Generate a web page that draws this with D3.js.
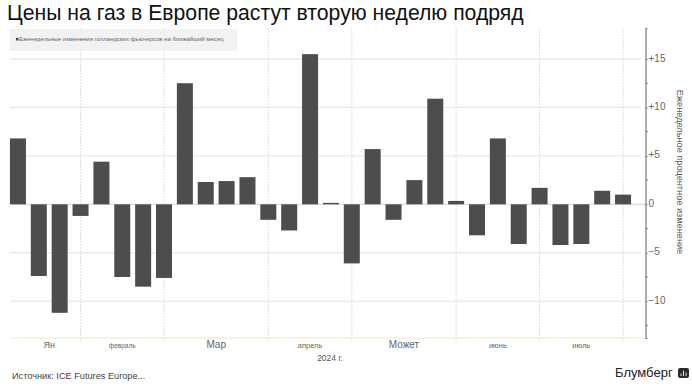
<!DOCTYPE html>
<html>
<head>
<meta charset="utf-8">
<script src="https://cdn.jsdelivr.net/npm/d3@7"></script>
<style>
  html, body { margin: 0; padding: 0; background: #fff; }
  svg { display: block; }
  text { font-family: "Liberation Sans", Arial, sans-serif; }
</style>
</head>
<body>
<svg id="chart" width="692" height="387"></svg>
<script>
// weekly closes
const weeks = ["01-05","01-12","01-19","01-26","02-02","02-09","02-16","02-23","03-01","03-08",
  "03-15","03-22","03-29","04-05","04-12","04-19","04-26","05-03","05-10","05-17",
  "05-24","05-31","06-07","06-14","06-21","06-28","07-05","07-12","07-19","07-26"];
const changes = [6.8,-7.4,-11.2,-1.2,4.4,-7.5,-8.5,-7.6,12.5,2.3,
  2.4,2.8,-1.6,-2.7,15.5,0.15,-6.1,5.7,-1.6,2.5,
  10.9,0.35,-3.2,6.8,-4.1,1.7,-4.2,-4.1,1.4,1.0];

// last week of each month, where the vertical grid lines sit
const monthEnds = ["01-26","02-23","03-29","04-26","05-31","06-28","07-26"];
const monthLabels = ["Ян","февраль","Мар","апрель","Может","июнь","июль"];
const monthSizes = [9,6.5,10,7.5,10,7.5,7.5];

const yTicks = [15,10,5,0,-5,-10];
const yMinorTicks = [12.5,7.5,2.5,-2.5,-7.5,-12.5];

// opacity keeps the text antialiasing grey instead of colour fringed
const svg = d3.select("#chart").append("g").attr("opacity", 0.995);

const x = d3.scaleBand().domain(weeks).range([7.5, 633.5]).paddingInner(0.233).paddingOuter(0.117);
const y = d3.scaleLinear().domain([-13.8, 18.2]).range([338, 28]);
const xc = d => x(d) + x.bandwidth() / 2;

//title
svg.append("text").attr("x", 7).attr("y", 20)
  .attr("font-size", 21.2).attr("fill", "#111")
  .text("Цены на газ в Европе растут вторую неделю подряд");

//grid lines first, bars go on top
svg.append("g").selectAll("line").data(yTicks.filter(d => d != 0)).enter().append("line")
  .attr("x1", 10).attr("x2", 641)
  .attr("y1", d => y(d)).attr("y2", d => y(d))
  .attr("stroke", "#e2e2e2").attr("stroke-width", 1);

svg.append("g").selectAll("line").data(monthEnds).enter().append("line")
  .attr("x1", d => xc(d)).attr("x2", d => xc(d))
  .attr("y1", 28).attr("y2", 342)
  .attr("stroke", "#dedede").attr("stroke-width", 1).attr("stroke-dasharray", "2,1");

// legend box
svg.append("rect").attr("x", 10).attr("y", 29).attr("width", 227).attr("height", 22)
  .attr("fill", "#f1f1f1").attr("fill-opacity", 0.9);
svg.append("rect").attr("x", 16).attr("y", 38).attr("width", 2.5).attr("height", 2.5).attr("fill", "#444");
svg.append("text").attr("x", 19).attr("y", 41)
  .attr("font-size", 6).attr("fill", "#666")
  .text("Еженедельные изменения голландских фьючерсов на ближайший месяц");

// baseline under the bars
svg.append("line").attr("x1", 10).attr("x2", 645).attr("y1", y.range()[0]).attr("y2", y.range()[0])
  .attr("stroke", "#e9e9c4").attr("stroke-width", 1);

svg.append("line").attr("x1", 10).attr("x2", 645).attr("y1", y(0)).attr("y2", y(0))
  .attr("stroke", "#d4d4d4").attr("stroke-width", 1);

//the bars
svg.append("g").selectAll("rect").data(changes).enter().append("rect")
  .attr("x", (d, i) => x(weeks[i]))
  .attr("width", x.bandwidth())
  .attr("y", d => y(Math.max(d, 0)))
  .attr("height", d => Math.abs(y(d) - y(0)))
  .attr("fill", "#4d4d4d");

// right axis
const yAxis = d3.axisRight(y).tickValues(yTicks).tickSize(2).tickPadding(1)
  .tickFormat(d => d > 0 ? "+" + d : d < 0 ? "\u2212" + Math.abs(d) : "0");
const axisG = svg.append("g").attr("transform", "translate(645.5,0)").call(yAxis);
axisG.select(".domain").attr("stroke", "#777").attr("stroke-width", 1.2);
axisG.selectAll(".tick line").attr("stroke", "#777");
axisG.selectAll(".tick text").attr("font-size", 10).attr("fill", "#666")
  .attr("font-family", "Liberation Sans").attr("x", 3).attr("dy", "0.2em");

svg.append("g").selectAll("line").data(yMinorTicks).enter().append("line")
  .attr("x1", 645.5).attr("x2", 648)
  .attr("y1", d => y(d)).attr("y2", d => y(d))
  .attr("stroke", "#888");

svg.append("text")
  .attr("transform", "translate(677,172) rotate(90)")
  .attr("text-anchor", "middle").attr("font-size", 9.2).attr("fill", "#555")
  .text("Еженедельное процентное изменение");

// month labels go in the middle of each span
const monthStarts = [weeks[0]].concat(monthEnds.slice(0, -1));
svg.append("g").selectAll("text").data(monthLabels).enter().append("text")
  .attr("x", (d, i) => (xc(monthStarts[i]) + xc(monthEnds[i])) / 2)
  .attr("y", 348)
  .attr("text-anchor", "middle")
  .attr("font-size", (d, i) => monthSizes[i])
  .attr("fill", "#666")
  .text(d => d);

svg.append("text").attr("x", 330).attr("y", 361).attr("text-anchor", "middle")
  .attr("font-size", 8.5).attr("fill", "#555").text("2024 г.");

svg.append("text").attr("x", 12).attr("y", 379)
  .attr("font-size", 9.2).attr("fill", "#444").text("Источник: ICE Futures Europe...");

svg.append("text").attr("x", 615).attr("y", 377)
  .attr("font-size", 13).attr("fill", "#222").text("Блумберг");

// little logo
const logo = svg.append("g").attr("transform", "translate(678,368)");
logo.append("rect").attr("width", 11).attr("height", 10).attr("rx", 2).attr("fill", "#2b2b2b");
logo.selectAll("line").data([[3,5.5],[5.5,2.5],[8,4.5]]).enter().append("line")
  .attr("x1", d => d[0]).attr("x2", d => d[0]).attr("y1", d => d[1]).attr("y2", 8)
  .attr("stroke", "#ddd").attr("stroke-width", 1);
</script>
</body>
</html>
